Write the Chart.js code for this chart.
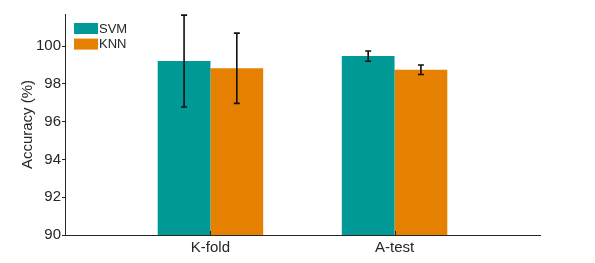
<!DOCTYPE html>
<html>
<head>
<meta charset="utf-8">
<script src="https://cdn.jsdelivr.net/npm/chart.js@4"></script>
<style>
  html, body { margin: 0; padding: 0; background: #fff; }
  #wrap { width: 595px; height: 263px; position: relative; }
</style>
</head>
<body>
<div id="wrap"><canvas id="c"></canvas></div>
<script>
const categories = ['K-fold', 'A-test'];
const seriesNames = ['SVM', 'KNN'];
const svmMeans = [99.21, 99.47];
const svmErrors = [2.43, 0.27];
const knnMeans = [98.83, 98.75];
const knnErrors = [1.86, 0.25];
const yTicks = [90, 92, 94, 96, 98, 100];

const TEXT = '#262626';
const FONT = "'Liberation Sans', Arial, Helvetica, sans-serif";
const colors = ['rgb(0,153,150)', 'rgb(230,128,0)'];

function toPoints(means) {
  return means.map((v, i) => ({ x: i + 1, y: v }));
}

const errorBarPlugin = {
  id: 'errorBars',
  afterDatasetsDraw(chart) {
    const ctx = chart.ctx;
    const yScale = chart.scales.y;
    ctx.save();
    ctx.strokeStyle = '#111';
    ctx.lineWidth = 1.6;
    chart.data.datasets.forEach((ds, di) => {
      const meta = chart.getDatasetMeta(di);
      meta.data.forEach((bar, i) => {
        const v = ds.data[i].y;
        const e = ds.errors[i];
        const x = bar.x;
        const yTop = yScale.getPixelForValue(v + e);
        const yBot = yScale.getPixelForValue(v - e);
        const cap = 3;
        ctx.beginPath();
        ctx.moveTo(x, yTop); ctx.lineTo(x, yBot);
        ctx.moveTo(x - cap, yTop); ctx.lineTo(x + cap, yTop);
        ctx.moveTo(x - cap, yBot); ctx.lineTo(x + cap, yBot);
        ctx.stroke();
      });
    });
    const xScale = chart.scales.x;
    ctx.strokeStyle = TEXT;
    ctx.lineWidth = 1;
    categories.forEach((c, i) => {
      const px = Math.round(xScale.getPixelForValue(i + 1)) + 0.5;
      ctx.beginPath();
      ctx.moveTo(px, chart.chartArea.bottom);
      ctx.lineTo(px, chart.chartArea.bottom - 4);
      ctx.stroke();
    });
    ctx.restore();
  }
};

const legendPlugin = {
  id: 'insideLegend',
  afterDraw(chart) {
    const ctx = chart.ctx;
    const area = chart.chartArea;
    ctx.save();
    ctx.font = '13px ' + FONT;
    ctx.textBaseline = 'middle';
    chart.data.datasets.forEach((ds, i) => {
      const bx = area.left + 9;
      const by = area.top + 9 + i * 15.6;
      ctx.fillStyle = ds.backgroundColor;
      ctx.fillRect(bx, by, 24, 11);
      ctx.fillStyle = TEXT;
      ctx.fillText(ds.label, bx + 25, by + 6);
    });
    ctx.restore();
  }
};

new Chart(document.getElementById('c'), {
  type: 'bar',
  data: {
    datasets: [
      { label: seriesNames[0], data: toPoints(svmMeans), errors: svmErrors, backgroundColor: colors[0] },
      { label: seriesNames[1], data: toPoints(knnMeans), errors: knnErrors, backgroundColor: colors[1] }
    ]
  },
  options: {
    responsive: true,
    maintainAspectRatio: false,
    animation: false,
    devicePixelRatio: 1,
    categoryPercentage: 0.573,
    barPercentage: 1.0,
    layout: { padding: { top: 14, right: 55, left: 0, bottom: 0 } },
    plugins: { legend: { display: false }, tooltip: { enabled: false } },
    scales: {
      x: {
        type: 'linear',
        offset: false,
        min: 0.21,
        max: 2.79,
        afterBuildTicks(scale) { scale.ticks = categories.map((c, i) => ({ value: i + 1 })); },
        afterFit(scale) { scale.height = 28; },
        ticks: {
          callback(v) { return categories[v - 1]; },
          color: TEXT,
          font: { family: FONT, size: 15 },
          padding: 4
        },
        grid: { display: true, offset: false, drawOnChartArea: false, drawTicks: false },
        border: { display: true, color: TEXT, width: 1 }
      },
      y: {
        min: 90,
        max: 101.7,
        afterBuildTicks(scale) { scale.ticks = yTicks.map(v => ({ value: v })); },
        afterFit(scale) { scale.width = 65; },
        ticks: {
          color: TEXT,
          font: { family: FONT, size: 15 },
          padding: 1
        },
        grid: { display: true, drawOnChartArea: false, drawTicks: true, tickLength: 3, color: TEXT },
        border: { display: true, color: TEXT, width: 1 },
        title: {
          display: true,
          text: 'Accuracy (%)',
          color: TEXT,
          font: { family: FONT, size: 15 },
          padding: { top: 19, bottom: 0 }
        }
      }
    }
  },
  plugins: [errorBarPlugin, legendPlugin]
});
</script>
</body>
</html>
